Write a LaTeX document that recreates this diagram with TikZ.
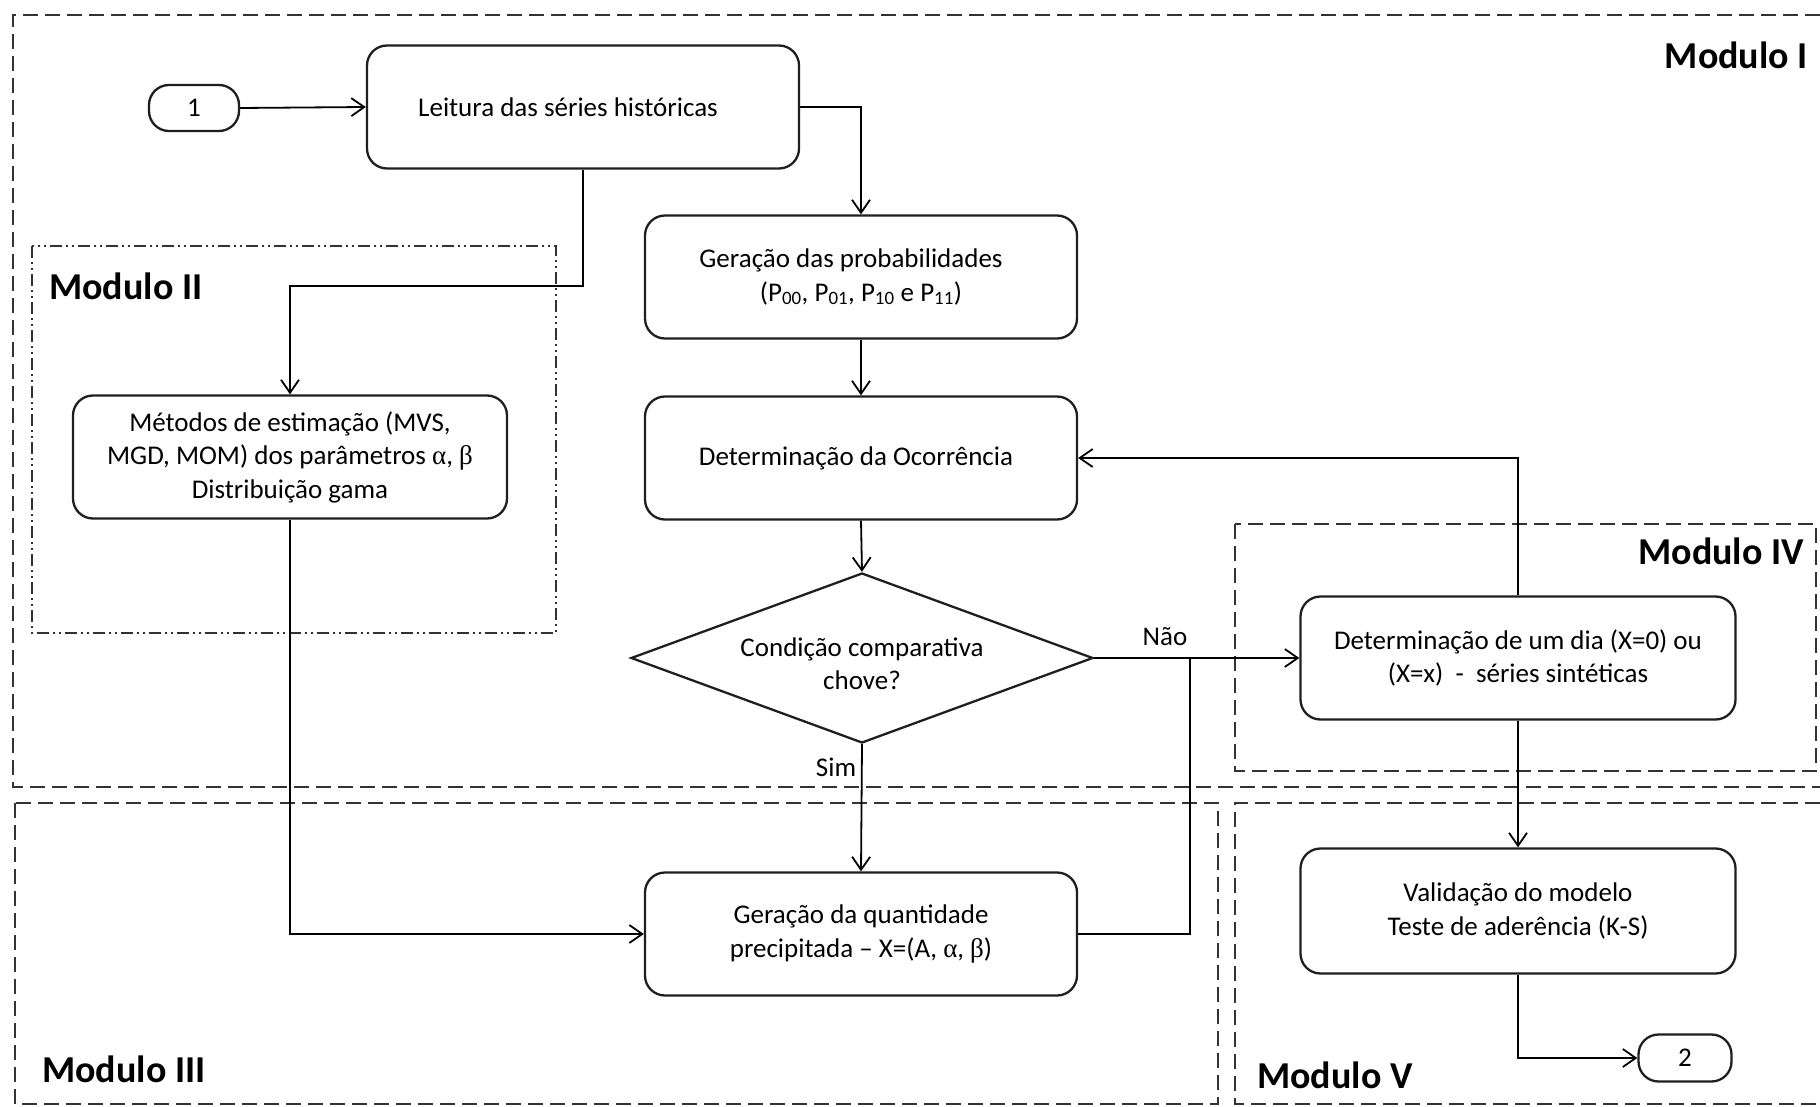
\documentclass[tikz,border=0pt]{standalone}
\usepackage{fontspec}
\setmainfont{Carlito}
\newfontfamily\grk{Liberation Serif}
\usetikzlibrary{arrows.meta,shapes.geometric}
\newcommand\bxf{\fontsize{27}{33.5}\selectfont}
\newcommand\mdf{\fontsize{38}{44}\selectfont\bfseries}
\begin{document}
\begin{tikzpicture}[x=1pt,y=-1pt,
  box/.style={draw=black!88, line width=2.3pt, rounded corners=20pt, minimum width=432pt, minimum height=123pt, align=center, font=\bxf, inner sep=0pt},
  term/.style={draw=black!88, line width=2.3pt, rounded corners=20pt, minimum width=90pt, minimum height=46pt, font=\bxf, inner sep=0pt},
  decision/.style={draw=black!88, line width=2.3pt, diamond, aspect=2.72, minimum width=462pt, minimum height=170pt, inner sep=0pt, align=center, font=\bxf},
  arr/.style={line width=1.8pt, -{Straight Barb[length=13pt,width=18pt,line width=1.8pt]}},
  ln/.style={line width=1.8pt},
  modframe/.style={draw=black!80, line width=2.2pt, dash pattern=on 15pt off 7pt},
  modtwo/.style={draw=black!80, line width=2pt, dash pattern=on 12pt off 4pt on 2pt off 4pt on 2pt off 4pt},
  modlab/.style={font=\mdf, inner sep=0pt},
  lab/.style={font=\bxf, inner sep=0pt}
]
\fill[white] (0,0) rectangle (1820,1107);
\useasboundingbox (0,0) rectangle (1820,1107);

% module frames
\draw[modframe] (1820,15) -- (13,15) -- (13,787) -- (1820,787);
\draw[modtwo] (32,246) rectangle (556,633);
\draw[modframe] (15,803) rectangle (1218,1104);
\draw[modframe] (1235,524) rectangle (1816,771);
\draw[modframe] (1820,803) -- (1235,803) -- (1235,1104) -- (1820,1104);

% module labels
\node[modlab, anchor=east] (mI) at (1808,55) {Modulo I};
\node[modlab, anchor=west] (mII) at (49,286) {Modulo II};
\node[modlab, anchor=west] (mIII) at (42,1069) {Modulo III};
\node[modlab, anchor=east] (mIV) at (1804,551) {Modulo IV};
\node[modlab, anchor=west] (mV) at (1257,1075) {Modulo V};

% nodes
\node[term] (t1) at (194,108) {1};
\node[box] (leit) at (583,107) {Leitura das séries históricas\hspace*{30pt}};
\node[box] (gprob) at (861,277) {Geração das probabilidades\hspace*{20pt}\\(P\textsubscript{00}, P\textsubscript{01}, P\textsubscript{10} e P\textsubscript{11})};
\node[box] (docc) at (861,458) {Determinação da Ocorrência\hspace*{10pt}};
\node[box, minimum width=434pt] (met) at (290,457) {Métodos de estimação (MVS,\\MGD, MOM) dos parâmetros {\grk α}, {\grk β}\\Distribuição gama};
\node[decision] (dia) at (862,658) {\rule{0pt}{30pt}Condição comparativa\\chove?};
\node[box, minimum width=435pt] (ddia) at (1518,658) {Determinação de um dia (X=0) ou\\(X=x) \ -\ \ séries sintéticas};
\node[box] (gq) at (861,934) {Geração da quantidade\\precipitada -- X=(A, {\grk α}, {\grk β})};
\node[box, minimum width=435pt, minimum height=125pt] (val) at (1518,911) {Validação do modelo\\Teste de aderência (K-S)};
\node[term, minimum width=93pt, minimum height=47pt] (t2) at (1685,1058) {2};

\node[lab] (nao) at (1165,637) {Não};
\node[lab] (sim) at (836,767) {Sim};

% connectors
\draw[arr] (t1.east) -- (leit.west);
\draw[arr] (leit.east) -| (gprob.north);
\path (leit.south) ++(0,116) coordinate (k1);
\draw[arr] (leit.south) -- (k1) -| (met.north);
\draw[arr] (gprob.south) -- (docc.north);
\draw[arr] (docc.south) -- (dia.north);
\draw[arr] (dia.east) -- (ddia.west);
\path (dia.east) -- (ddia.west) coordinate[pos=0.466] (jn);
\draw[arr] (dia.south) -- (gq.north);
\draw[ln] (gq.east) -| (jn);
\draw[arr] (met.south) |- (gq.west);
\draw[arr] (ddia.north) |- (docc.east);
\draw[arr] (ddia.south) -- (val.north);
\draw[arr] (val.south) |- (t2.west);
\end{tikzpicture}
\end{document}
